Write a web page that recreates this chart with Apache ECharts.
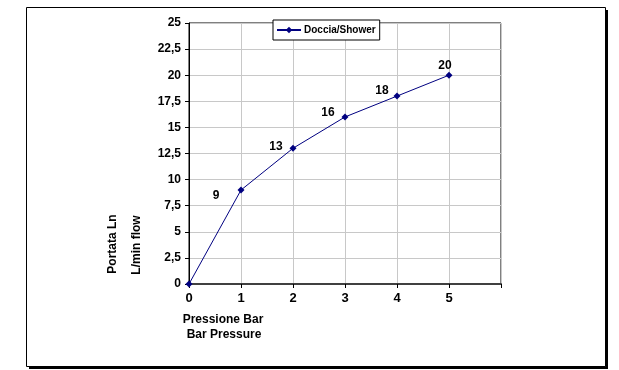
<!DOCTYPE html>
<html>
<head>
<meta charset="utf-8">
<script src="https://cdn.jsdelivr.net/npm/echarts@6/dist/echarts.min.js"></script>
<style>html,body{margin:0;padding:0;background:#fff}#c{width:619px;height:370px}</style>
</head>
<body>
<div id="c"></div>
<script>
var seriesName = 'Doccia/Shower';
var pressure = [0, 1, 2, 3, 4, 5];
var flow = [0, 9, 13, 16, 18, 20];
var showLabel = [false, true, true, true, true, true];
var xTitle = ['Pressione Bar', 'Bar Pressure'];
var yTitle = ['Portata Ln', 'L/min flow'];

var labelOffsets = [[0,0], [-25, 6], [-17, -2], [-17, -4], [-15, -5], [-4, -10]];
var FONT = '"Liberation Sans", Arial, sans-serif';

var data = pressure.map(function (p, i) {
  return {
    value: [p, flow[i]],
    label: { show: showLabel[i], position: 'inside', offset: labelOffsets[i] }
  };
});

var chart = echarts.init(document.getElementById('c'), null, { renderer: 'canvas' });
chart.setOption({
  animation: false,
  backgroundColor: '#fff',
  textStyle: { fontFamily: FONT },
  grid: { left: 189, right: 118, top: 23, bottom: 86, show: true, borderColor: '#000', borderWidth: 1, containLabel: false },
  legend: {
    left: 273, top: 20,
    padding: [5, 4, 5, 3],
    itemWidth: 24, itemHeight: 8, itemGap: 0,
    borderColor: '#000', borderWidth: 1, borderRadius: 0,
    backgroundColor: '#fff',
    textStyle: { fontSize: 10, fontWeight: 'bold', color: '#000', fontFamily: FONT, padding: [0, 0, 0, -2] },
    data: [seriesName]
  },
  xAxis: {
    type: 'value', min: 0, max: 6, interval: 1,
    axisLine: { show: true, lineStyle: { color: '#404040', width: 2 } },
    axisTick: { show: true, inside: false, length: 4, lineStyle: { color: '#000', width: 1 } },
    axisLabel: {
      margin: 8, fontSize: 13, fontWeight: 'bold', color: '#000', fontFamily: FONT,
      formatter: function (v) { return v >= 6 ? '' : String(v); }
    },
    splitLine: { show: true, lineStyle: { color: '#c8c8c8', width: 1 } }
  },
  yAxis: {
    type: 'value', min: 0, max: 25, interval: 2.5,
    axisLine: { show: true, lineStyle: { color: '#000', width: 1 } },
    axisTick: { show: true, inside: false, length: 4, lineStyle: { color: '#000' } },
    axisLabel: {
      margin: 8, fontSize: 12, fontWeight: 'bold', color: '#000', fontFamily: FONT,
      formatter: function (v) { return String(v).replace('.', ','); }
    },
    splitLine: { show: true, lineStyle: { color: '#c8c8c8', width: 1 } }
  },
  series: [{
    name: seriesName,
    type: 'line',
    data: data,
    symbol: 'diamond',
    symbolSize: 7,
    itemStyle: { color: '#000080' },
    lineStyle: { color: '#000080', width: 1 },
    label: { fontSize: 12, fontWeight: 'bold', color: '#000', fontFamily: FONT },
    z: 5
  }],
  graphic: [
    {
      type: 'rect', z: -101, silent: true,
      shape: { x: 29, y: 10, width: 579, height: 359 },
      style: { fill: '#000' }
    },
    {
      type: 'rect', z: -100, silent: true,
      shape: { x: 26.5, y: 7.5, width: 579, height: 359 },
      style: { fill: '#fff', stroke: '#000', lineWidth: 1 }
    },
    {
      type: 'text', x: 113, y: 244, rotation: Math.PI / 2,
      style: { text: yTitle[0], font: 'bold 12px ' + FONT, fill: '#000', textAlign: 'center', textVerticalAlign: 'middle' }
    },
    {
      type: 'text', x: 137, y: 245, rotation: Math.PI / 2,
      style: { text: yTitle[1], font: 'bold 12px ' + FONT, fill: '#000', textAlign: 'center', textVerticalAlign: 'middle' }
    },
    {
      type: 'text', x: 223, y: 320,
      style: { text: xTitle[0], font: 'bold 12px ' + FONT, fill: '#000', textAlign: 'center', textVerticalAlign: 'middle' }
    },
    {
      type: 'text', x: 224, y: 335,
      style: { text: xTitle[1], font: 'bold 12px ' + FONT, fill: '#000', textAlign: 'center', textVerticalAlign: 'middle' }
    }
  ]
});
</script>
</body>
</html>
